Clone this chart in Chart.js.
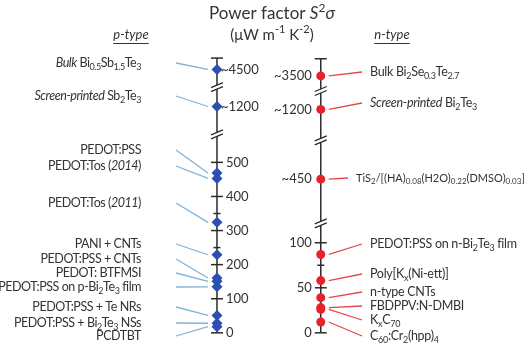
<!DOCTYPE html>
<html>
<head>
<meta charset="utf-8">
<script src="https://cdn.jsdelivr.net/npm/chart.js@4"></script>
<style>
  body { margin: 0; background: #fff; }
  #wrap { width: 526px; height: 348px; }
</style>
</head>
<body>
<div id="wrap"><canvas id="pf" width="526" height="348"></canvas></div>
<script>
/* ===== Power factor comparison: p-type vs n-type ===== */

// p-type materials (left axis), values in uW m^-1 K^-2
const pLabels = [
  '*Bulk* Bi_{0.5}Sb_{1.5}Te_{3}',
  '*Screen-printed* Sb_{2}Te_{3}',
  'PEDOT:PSS',
  'PEDOT:Tos (*2014*)',
  'PEDOT:Tos (*2011*)',
  'PANI + CNTs',
  'PEDOT:PSS + CNTs',
  'PEDOT: BTFMSI',
  'PEDOT:PSS on p-Bi_{2}Te_{3} film',
  'PEDOT:PSS + Te NRs',
  'PEDOT:PSS + Bi_{2}Te_{3} NSs',
  'PCDTBT'
];
const pValues = [4500, 1200, 469, 453, 324, 229, 161, 151, 135, 51, 28, 18];

// n-type materials (right axis)
const nLabels = [
  'Bulk Bi_{2}Se_{0.3}Te_{2.7}',
  '*Screen-printed* Bi_{2}Te_{3}',
  'TiS_{2}/[(HA)_{0.08}(H2O)_{0.22}(DMSO)_{0.03}]',
  'PEDOT:PSS on n-Bi_{2}Te_{3} film',
  'Poly[K_{x}(Ni-ett)]',
  'n-type CNTs',
  'FBDPPV:N-DMBI',
  'K_{x}C_{70}',
  'C_{60}:Cr_{2}(hpp)_{4}'
];
const nValues = [3500, 1200, 450, 87, 58, 39, 28, 26, 12];

// tick labels
const pMajorTicks = [0, 100, 200, 300, 400, 500];
const pMinorTicks = [50, 150, 250, 350, 450];
const pApproxTicks = [1200, 4500];
const nMajorTicks = [0, 50, 100];
const nMinorTicks = [25, 75];
const nApproxTicks = [450, 1200, 3500];

// ---- layout (pixels / scale units), kept apart from the data ----
const FONT = 'Lato, "Open Sans", sans-serif';
const TEXT = '#333';
// units = pixels measured up from the bottom of the canvas
const pAnchors = [[0, 10], [500, 186], [1200, 243.7], [4500, 282]];
const nAnchors = [[0, 10], [100, 103], [450, 168.7], [1200, 240.7], [3500, 275.3]];
const pBreaks = [215, 263.7], pCap = 293.7;
const nBreaks = [123, 208.7, 259.7], nCap = 293;
const pLabelY = [63, 96, 150, 166, 203, 244, 259, 273, 287, 307, 323, 336];
const nLabelY = [72, 103, 178, 244, 274, 292, 306, 320, 336];

/** Linear scale with piecewise (broken) mapping value -> unit */
class BrokenScale extends Chart.LinearScale {
  toUnit(v) {
    const a = this.options.anchors;
    if (v <= a[0][0]) return a[0][1];
    for (let i = 1; i < a.length; i++) {
      if (v <= a[i][0]) {
        const [v0, u0] = a[i - 1], [v1, u1] = a[i];
        return u0 + (u1 - u0) * (v - v0) / (v1 - v0);
      }
    }
    return a[a.length - 1][1];
  }
  pixelForUnit(u) { return super.getPixelForValue(u); }
  getPixelForValue(v) { return super.getPixelForValue(this.toUnit(v)); }
}
BrokenScale.id = 'broken';
BrokenScale.defaults = Chart.LinearScale.defaults;
Chart.register(BrokenScale);

/** split '*italic*', '_{sub}', '^{sup}' markup into segments */
function parseRich(s) {
  const segs = [];
  let italic = false, buf = '', i = 0;
  const push = (text, mode) => { if (text) segs.push({ text, mode, italic }); };
  while (i < s.length) {
    const c = s[i];
    if (c === '*') { push(buf, 'n'); buf = ''; italic = !italic; i++; }
    else if ((c === '_' || c === '^') && s[i + 1] === '{') {
      push(buf, 'n'); buf = '';
      const end = s.indexOf('}', i);
      push(s.slice(i + 2, end), c === '_' ? 'sub' : 'sup');
      i = end + 1;
    } else { buf += c; i++; }
  }
  push(buf, 'n');
  return segs;
}

function drawRich(ctx, s, x, y, size, align, spacing) {
  const segs = parseRich(s);
  const fontFor = seg => `${seg.italic ? 'italic ' : ''}${seg.mode === 'n' ? size : Math.round(size * 0.7)}px ${FONT}`;
  ctx.letterSpacing = (spacing || 0) + 'px';
  let w = 0;
  segs.forEach(seg => { ctx.font = fontFor(seg); seg.w = ctx.measureText(seg.text).width; w += seg.w; });
  let cx = align === 'right' ? x - w : align === 'center' ? x - w / 2 : x;
  ctx.textAlign = 'left';
  ctx.textBaseline = 'middle';
  segs.forEach(seg => {
    ctx.font = fontFor(seg);
    const dy = seg.mode === 'sub' ? size * 0.3 : seg.mode === 'sup' ? -size * 0.35 : 0;
    ctx.fillText(seg.text, cx, y + dy);
    cx += seg.w;
  });
  ctx.letterSpacing = '0px';
  return { left: align === 'right' ? x - w : align === 'center' ? x - w / 2 : x, width: w };
}

function line(ctx, x1, y1, x2, y2) {
  ctx.beginPath(); ctx.moveTo(x1, y1); ctx.lineTo(x2, y2); ctx.stroke();
}

function drawAxis(ctx, scale, ax, majors, minors, approx, breaks, cap, side) {
  const yTop = scale.pixelForUnit(cap);
  const yBot = scale.getPixelForValue(0);
  ctx.strokeStyle = '#2b2b2b';
  ctx.lineWidth = 1.5;
  line(ctx, ax, yTop, ax, yBot);
  line(ctx, ax - 6, yTop, ax + 6, yTop);
  majors.forEach(v => { const y = scale.getPixelForValue(v); line(ctx, ax - 6, y, ax + 6, y); });
  minors.forEach(v => { const y = scale.getPixelForValue(v); line(ctx, ax - 3.5, y, ax + 3.5, y); });

  // break marks
  breaks.forEach(u => {
    const y = scale.pixelForUnit(u);
    ctx.fillStyle = '#fff';
    ctx.fillRect(ax - 3, y - 2, 6, 4);
    ctx.lineWidth = 1.3;
    line(ctx, ax - 6, y + 0.5, ax + 6, y - 4.5);
    line(ctx, ax - 6, y + 4.5, ax + 6, y - 0.5);
    ctx.lineWidth = 1.5;
  });

  ctx.fillStyle = TEXT;
  const fs = 13;
  majors.forEach(v => {
    const y = scale.getPixelForValue(v);
    drawRich(ctx, String(v), side === 'right' ? ax + 9 : ax - 9, y, fs, side === 'right' ? 'left' : 'right');
  });
  approx.forEach(v => {
    const y = scale.getPixelForValue(v);
    drawRich(ctx, '~' + v, side === 'right' ? ax + 4 : ax - 9, y, fs, side === 'right' ? 'left' : 'right');
  });
}

const decor = {
  id: 'decor',
  beforeDatasetsDraw(chart) {
    const ctx = chart.ctx;
    const xs = chart.scales.x, yL = chart.scales.yL, yR = chart.scales.yR;
    const axL = xs.getPixelForValue(0), axR = xs.getPixelForValue(1);
    ctx.save();

    // titles
    ctx.fillStyle = TEXT;
    drawRich(ctx, 'Power factor *S*^{2}*σ*', 272, 14, 17, 'center');
    drawRich(ctx, '(μW m^{-1} K^{-2})', 272, 35, 15, 'center');
    [['*p-type*', 131], ['*n-type*', 392]].forEach(([t, cx]) => {
      const r = drawRich(ctx, t, cx, 35, 13, 'center');
      ctx.strokeStyle = TEXT; ctx.lineWidth = 1;
      line(ctx, r.left, 43.5, r.left + r.width, 43.5);
    });

    // axes
    drawAxis(ctx, yL, axL, pMajorTicks, pMinorTicks, pApproxTicks, pBreaks, pCap, 'right');
    drawAxis(ctx, yR, axR, nMajorTicks, nMinorTicks, nApproxTicks, nBreaks, nCap, 'left');

    // p-type labels + leader lines
    pLabels.forEach((lab, i) => {
      ctx.fillStyle = TEXT;
      drawRich(ctx, lab, 141, pLabelY[i], 12.5, 'right', -0.45);
      ctx.strokeStyle = '#7fb3d8'; ctx.lineWidth = 1.3;
      line(ctx, 176, pLabelY[i], axL - 9, yL.getPixelForValue(pValues[i]));
    });

    // n-type labels + leader lines
    nLabels.forEach((lab, i) => {
      const small = lab.startsWith('TiS');
      const lx = small ? 356 : 370;
      ctx.fillStyle = TEXT;
      drawRich(ctx, lab, lx, nLabelY[i], small ? 11 : 12.5, 'left', small ? 0 : -0.3);
      ctx.strokeStyle = '#e5474b'; ctx.lineWidth = 1.3;
      line(ctx, axR + 8, yR.getPixelForValue(nValues[i]), lx - 8, nLabelY[i]);
    });
    ctx.restore();
  }
};

new Chart(document.getElementById('pf').getContext('2d'), {
  type: 'scatter',
  data: {
    datasets: [
      {
        label: 'p-type',
        data: pValues.map(v => ({ x: 0, y: v })),
        yAxisID: 'yL',
        pointStyle: 'rectRot',
        pointRadius: 5.5,
        backgroundColor: '#2d4fb0',
        borderColor: '#2d4fb0',
        borderWidth: 0
      },
      {
        label: 'n-type',
        data: nValues.map(v => ({ x: 1, y: v })),
        yAxisID: 'yR',
        pointStyle: 'circle',
        pointRadius: 4.5,
        backgroundColor: '#e8222a',
        borderColor: '#e8222a',
        borderWidth: 0
      }
    ]
  },
  options: {
    responsive: false,
    animation: false,
    layout: { padding: 0 },
    plugins: { legend: { display: false }, tooltip: { enabled: false } },
    scales: {
      x: { type: 'linear', min: -216 / 106, max: 310 / 106, display: false },
      yL: { type: 'broken', anchors: pAnchors, min: 0, max: 348, display: false },
      yR: { type: 'broken', anchors: nAnchors, min: 0, max: 348, display: false }
    }
  },
  plugins: [decor]
});
</script>
</body>
</html>
